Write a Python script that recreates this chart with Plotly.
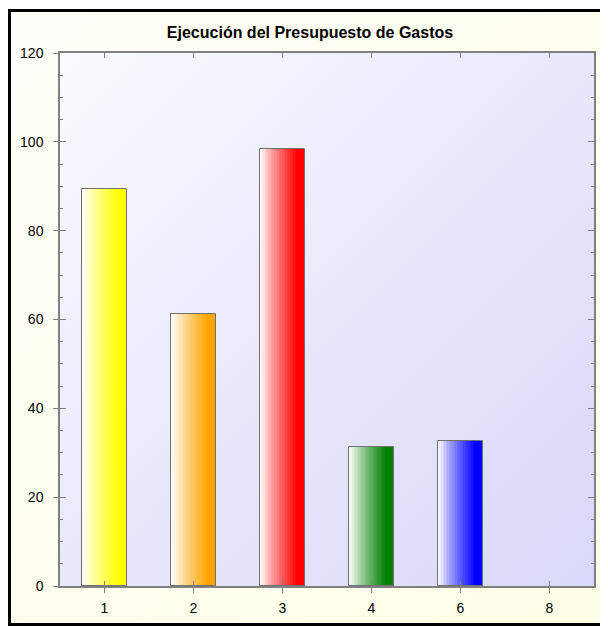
import base64
import plotly.graph_objects as go

# ---- data ----
categories = ["1", "2", "3", "4", "6", "8"]
values = [89.3, 61.3, 98.3, 31.3, 32.6, 0]
bar_colors = ["#FFFF00", "#FFA500", "#FF0000", "#008000", "#0000FF", "#0000FF"]
y_ticks = [0, 20, 40, 60, 80, 100, 120]
title_text = "Ejecución del Presupuesto de Gastos"

W, H = 608, 626
ML, MT = 52, 45
PW, PH = 534, 533
MR, MB = W - ML - PW, H - MT - PH
FONT = "Liberation Sans, Arial, sans-serif"
AXIS_GRAY = "#808080"


def hex_to_rgb(h):
    h = h.lstrip("#")
    return tuple(int(h[i:i + 2], 16) for i in (0, 2, 4))


def mix(c, t):
    r, g, b = hex_to_rgb(c)
    return "rgb(%d,%d,%d)" % (round(255 + (r - 255) * t), round(255 + (g - 255) * t), round(255 + (b - 255) * t))


fig = go.Figure()

# gradient bars drawn as thin slices
N = 28
BAR_W = 0.5
sw = BAR_W / N
for k in range(N):
    t = min(1.0, (k / (N - 1)) / 0.85)
    t = t ** 0.85
    width = sw * 1.25 if k < N - 1 else sw
    fig.add_trace(go.Bar(
        x=categories, y=values,
        width=[width] * len(categories),
        offset=[-BAR_W / 2 + k * sw] * len(categories),
        marker=dict(color=[mix(c, t) for c in bar_colors], line=dict(width=0)),
        showlegend=False, hoverinfo="skip",
    ))

# outline
fig.add_trace(go.Bar(
    x=categories, y=values, width=[BAR_W] * len(categories),
    marker=dict(color="rgba(0,0,0,0)",
                line=dict(color="#707070", width=[1 if v > 0 else 0 for v in values])),
    showlegend=False, hoverinfo="skip",
))

# invisible trace for the overlay axes (crossing ticks)
fig.add_trace(go.Scatter(
    x=categories, y=values, xaxis="x2", yaxis="y2", mode="markers",
    marker=dict(opacity=0), showlegend=False, hoverinfo="skip",
))

# backgrounds as SVG images (frame: left, top and bottom edges)
frame_svg = (
    '<svg xmlns="http://www.w3.org/2000/svg" width="%d" height="%d" viewBox="0 0 %d %d" preserveAspectRatio="none">'
    '<defs><linearGradient id="g" x1="0" y1="0" x2="1" y2="1">'
    '<stop offset="0" stop-color="#FFFFFA"/><stop offset="1" stop-color="#FEFEE6"/></linearGradient></defs>'
    '<rect x="0" y="0" width="%d" height="%d" fill="#FFFFFF"/>'
    '<rect x="1.5" y="2.5" width="%d" height="614" fill="url(#g)"/>'
    '<path d="M %d 2.5 L 1.5 2.5 L 1.5 616.5 L %d 616.5" fill="none" stroke="#000000" stroke-width="3"/>'
    '</svg>' % (W, H, W, H, W, H, W, W, W)
)
plot_svg = (
    '<svg xmlns="http://www.w3.org/2000/svg" width="400" height="400" viewBox="0 0 400 400" preserveAspectRatio="none">'
    '<defs><linearGradient id="p" x1="0" y1="0" x2="1" y2="1">'
    '<stop offset="0" stop-color="#FAFAFF"/><stop offset="0.5" stop-color="#E8E8FB"/>'
    '<stop offset="1" stop-color="#D8D8F8"/></linearGradient></defs>'
    '<rect x="0" y="0" width="400" height="400" fill="url(#p)"/></svg>'
)


def uri(s):
    return "data:image/svg+xml;base64," + base64.b64encode(s.encode()).decode()


images = [
    dict(source=uri(frame_svg), xref="paper", yref="paper",
         x=-ML / PW, y=1 + MT / PH, sizex=W / PW, sizey=H / PH,
         xanchor="left", yanchor="top", sizing="stretch", layer="below"),
    dict(source=uri(plot_svg), xref="paper", yref="paper",
         x=0, y=1, sizex=1, sizey=1,
         xanchor="left", yanchor="top", sizing="stretch", layer="below"),
]

xcommon = dict(type="category", categoryorder="array", categoryarray=categories,
               range=[-0.5, len(categories) - 0.5], showgrid=False, zeroline=False,
               showline=True, linecolor=AXIS_GRAY, linewidth=1.5,
               tickcolor=AXIS_GRAY, tickwidth=1, ticklen=5)
ycommon = dict(range=[0, 120], tickvals=y_ticks, showgrid=False, zeroline=False,
               showline=True, linecolor=AXIS_GRAY, linewidth=1.5,
               tickcolor=AXIS_GRAY, tickwidth=1)

fig.update_layout(
    width=W, height=H,
    margin=dict(l=ML, r=MR, t=MT, b=MB, pad=0),
    paper_bgcolor="#FFFFFF",
    plot_bgcolor="rgba(0,0,0,0)",
    barmode="overlay", bargap=0,
    images=images,
    title=dict(text="<b>%s</b>" % title_text, x=302 / W, xanchor="center",
               y=1 - 24 / H, yanchor="middle", yref="container",
               font=dict(family=FONT, size=16, color="#000000")),
    font=dict(family=FONT, size=14, color="#000000"),
    xaxis=dict(**xcommon, ticks="outside", mirror=True, showticklabels=True,
               ticklabelstandoff=3),
    xaxis2=dict(**xcommon, ticks="inside", mirror="ticks", overlaying="x",
                side="bottom", showticklabels=False),
    yaxis=dict(**ycommon, ticks="outside", ticklen=5, mirror=True,
               showticklabels=True, ticklabelstandoff=7),
    yaxis2=dict(**ycommon, ticks="inside", ticklen=6, mirror="ticks",
                overlaying="y", side="left", showticklabels=False,
                minor=dict(dtick=5, ticks="inside", ticklen=3,
                           tickcolor=AXIS_GRAY, tickwidth=1)),
)

fig.write_html(
    "out.html",
    post_script="document.documentElement.style.overflow='hidden';"
                "document.body.style.overflow='hidden';",
)
